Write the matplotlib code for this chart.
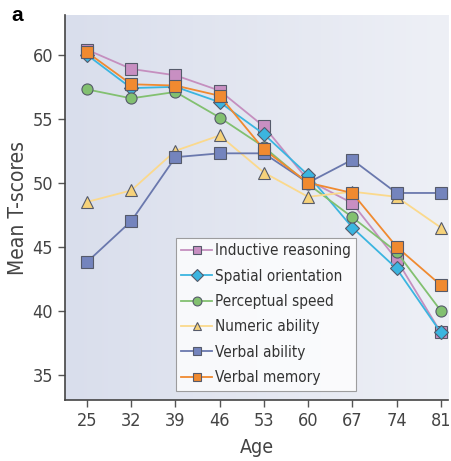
import numpy as np
import matplotlib.pyplot as plt

ages = [25, 32, 39, 46, 53, 60, 67, 74, 81]

inductive = [60.4, 58.9, 58.4, 57.2, 54.4, 50.2, 48.4, 44.0, 38.3]
spatial = [60.0, 57.4, 57.5, 56.3, 53.8, 50.6, 46.5, 43.3, 38.3]
perceptual = [57.3, 56.6, 57.1, 55.1, 52.8, 49.9, 47.3, 44.6, 40.0]
numeric = [48.5, 49.4, 52.5, 53.7, 50.8, 48.9, 49.3, 48.9, 46.5]
verbal_ability = [43.8, 47.0, 52.0, 52.3, 52.3, 50.0, 51.8, 49.2, 49.2]
verbal_memory = [60.2, 57.7, 57.6, 56.8, 52.6, 50.0, 49.2, 45.0, 42.0]

plt.rcParams['font.family'] = ['DejaVu Sans']
plt.rcParams['font.stretch'] = 'condensed'

fig = plt.figure(figsize=(4.51, 4.61), dpi=100)
ax = fig.add_axes([0.144, 0.132, 0.85, 0.835])

# light blue-grey background, a bit lighter on the right
grad = np.linspace(0, 1, 256).reshape(1, -1)
ax.imshow(grad, extent=[0, 1, 0, 1], transform=ax.transAxes, aspect='auto',
          cmap=plt.matplotlib.colors.LinearSegmentedColormap.from_list(
              'bg', ['#d9deec', '#eef0f6']), zorder=0)

series = [
    ('Inductive reasoning', inductive, 's', '#c88fc2', '#c58fbf'),
    ('Spatial orientation', spatial, 'D', '#3bb5e0', '#3bb5e0'),
    ('Perceptual speed', perceptual, 'o', '#82c070', '#82c070'),
    ('Numeric ability', numeric, '^', '#f6d27a', '#fbd98c'),
    ('Verbal ability', verbal_ability, 's', '#7484bd', '#6a78ad'),
    ('Verbal memory', verbal_memory, 's', '#f08a30', '#f08a30'),
]
for name, vals, mk, mc, lc in series:
    ax.plot(ages, vals, color=lc, lw=1.3, marker=mk, markersize=8 if mk != 'D' else 7.5,
            markerfacecolor=mc, markeredgecolor='#555a6a', markeredgewidth=0.8,
            label=name, zorder=3)

ax.set_xlim(21.5, 82.2)
ax.set_ylim(33.0, 63.1)
ax.set_xticks(ages)
ax.set_yticks([35, 40, 45, 50, 55, 60])
ax.tick_params(direction='out', length=5, width=1, color='#555555',
               labelsize=13, labelcolor='#444444')
for s in ['top', 'right']:
    ax.spines[s].set_visible(False)
for s in ['left', 'bottom']:
    ax.spines[s].set_color('#444444')
    ax.spines[s].set_linewidth(1.2)

ax.set_xlabel('Age', fontsize=14, color='#444444', labelpad=6)
ax.set_ylabel('Mean T-scores', fontsize=15, color='#444444', labelpad=3)

leg = ax.legend(loc='lower left', bbox_to_anchor=(0.29, 0.025), fontsize=11,
                frameon=True, fancybox=False, handlelength=2.0, markerscale=0.8,
                handletextpad=0.2, labelspacing=0.68, borderpad=0.35,
                borderaxespad=0)
leg.get_frame().set_facecolor('white')
leg.get_frame().set_edgecolor('#888888')
leg.get_frame().set_linewidth(0.8)
for t in leg.get_texts():
    t.set_color('#333333')

fig.text(0.025, 0.955, 'a', fontsize=15, fontweight='bold', family='Liberation Sans')

fig.savefig('out.png', dpi=100)
